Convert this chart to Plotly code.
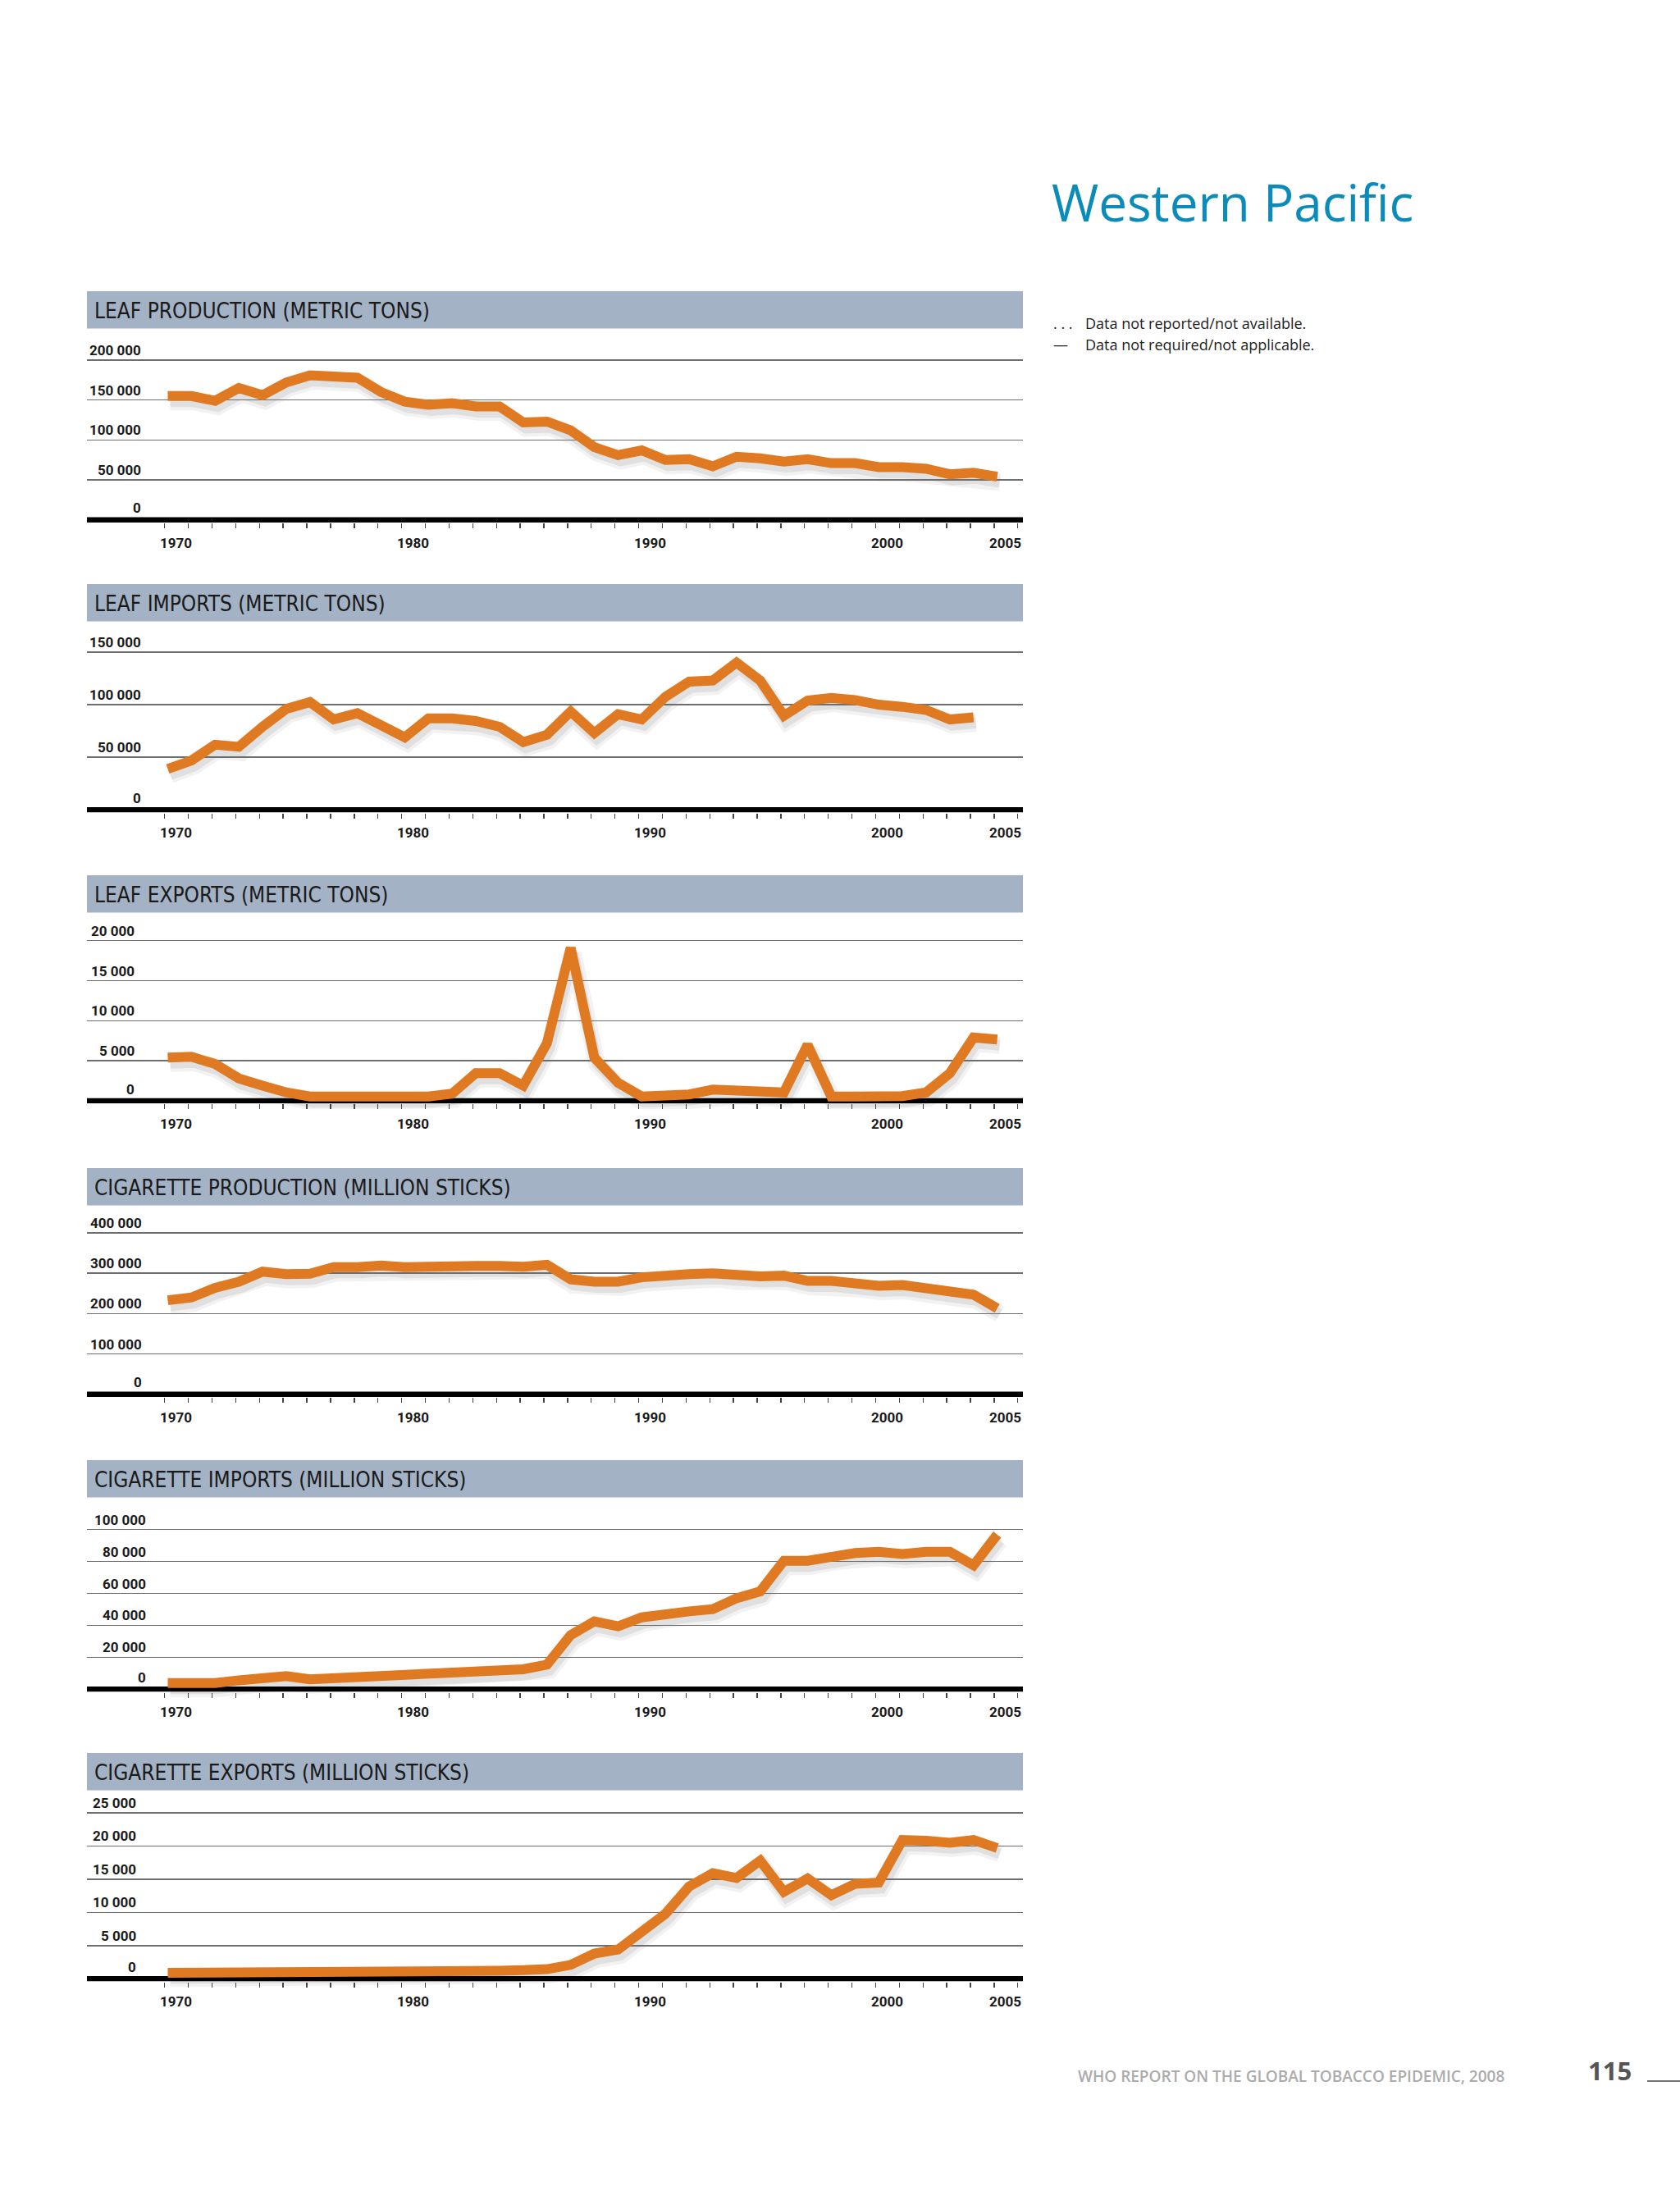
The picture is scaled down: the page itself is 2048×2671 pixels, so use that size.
import plotly.graph_objects as go

# ---------------- data ----------------
years = list(range(1970, 2006))

leaf_production = [155000, 155000, 149000, 165000, 156000, 172000, 181000, 178000, 178000, 160000,
                   148000, 144000, 146000, 142000, 142000, 122000, 123000, 112000, 91000, 81000,
                   87000, 75000, 76000, 67000, 79000, 77000, 73000, 76000, 71000, 71000,
                   66000, 66000, 64000, 57000, 59000, 54000]

leaf_imports = [39000, 47000, 62000, 60000, 79000, 96000, 102500, 86000, 92000, 81000,
                69000, 87000, 87000, 84500, 79000, 64500, 71500, 93500, 73000, 91000,
                86000, 107500, 122000, 123000, 140000, 123000, 89500, 104000, 106500, 104500,
                100000, 98000, 95000, 86000, 88000, None]

leaf_exports = [5400, 5500, 4600, 2800, 1900, 1050, 550, 550, 550, 550,
                550, 550, 900, 3450, 3450, 1900, 7200, 19100, 5400, 2250,
                550, 550, 800, 1400, 1300, 1150, 1050, 7000, 550, 550,
                550, 600, 1050, 3450, 7900, 7650]

cig_production = [233000, 240000, 264000, 279000, 304000, 298000, 299000, 315000, 315000, 319000,
                  315000, 318000, 319000, 318000, 318000, 316000, 321000, 285000, 279000, 279000,
                  290000, 296000, 298000, 300000, 294000, 292000, 294000, 281000, 281000, 276000,
                  269000, 271000, 262000, 250000, 247000, 213000]

cig_imports = [3900, 3400, 3900, 5600, 7400, 8200, 6200, 7000, 7900, 8200,
               8200, 9600, 9600, 10800, 11600, 12500, 15400, 33900, 42500, 39400,
               45000, 47600, 48800, 50200, 57000, 61300, 80500, 80500, 83500, 85300,
               86100, 84700, 86100, 86100, 77600, 96900]

cig_exports = [900, 900, 880, 850, 860, 860, 870, 870, 880, 900,
               1000, 1050, 1100, 1150, 1200, 1300, 1450, 2100, 3800, 4400,
               6900, 9800, 13900, 15900, 15200, 17800, 13100, 15100, 12600, 14300,
               14500, 20900, 20800, 20500, 20900, 19700]

panel_titles = ["LEAF PRODUCTION (METRIC TONS)", "LEAF IMPORTS (METRIC TONS)",
                "LEAF EXPORTS (METRIC TONS)", "CIGARETTE PRODUCTION (MILLION STICKS)",
                "CIGARETTE IMPORTS (MILLION STICKS)", "CIGARETTE EXPORTS (MILLION STICKS)"]

y_tick_values = [
    [0, 50000, 100000, 150000, 200000],
    [0, 50000, 100000, 150000],
    [0, 5000, 10000, 15000, 20000],
    [0, 100000, 200000, 300000, 400000],
    [0, 20000, 40000, 60000, 80000, 100000],
    [0, 5000, 10000, 15000, 20000, 25000],
]
y_tick_labels = [
    ["0", "50 000", "100 000", "150 000", "200 000"],
    ["0", "50 000", "100 000", "150 000"],
    ["0", "5 000", "10 000", "15 000", "20 000"],
    ["0", "100 000", "200 000", "300 000", "400 000"],
    ["0", "20 000", "40 000", "60 000", "80 000", "100 000"],
    ["0", "5 000", "10 000", "15 000", "20 000", "25 000"],
]
x_label_years = [1970, 1980, 1990, 2000, 2005]
x_label_text = ["1970", "1980", "1990", "2000", "2005"]

series = [leaf_production, leaf_imports, leaf_exports, cig_production, cig_imports, cig_exports]

region_title = "Western Pacific"
legend_lines = [(". . .", "Data not reported/not available."),
                ("\u2014", "Data not required/not applicable.")]
footer_text = "WHO REPORT ON THE GLOBAL TOBACCO EPIDEMIC, 2008"
page_number = "115"

# ---------------- layout geometry (pixels) ----------------
W, H = 2048, 2671
X_LEFT, X_RIGHT = 106, 1247
YEAR_PX = 28.89
X0_PX = 204.5          # pixel of the 1970 data point
TICK_SHIFT = -0.13     # tick marks sit slightly left of the data points
LABEL_SHIFT = 0.353    # year labels sit slightly right of the data points
x_range = [1970 - (X0_PX - X_LEFT) / YEAR_PX, 1970 + (X_RIGHT - X0_PX) / YEAR_PX]

header_top = [355, 712, 1067, 1424, 1780, 2137]
HEADER_H = 45.5
zero_px = [633.7, 987.3, 1342.0, 1699.7, 2059.3, 2412.3]
top_px = [439.0, 795.0, 1146.7, 1503.0, 1864.7, 2210.0]
label_right_px = [174, 174, 166, 175, 180, 168]
BAND_HALF = 3.25
TOP_PAD = 14
SH_DX, SH_DY = 3, 7

LINE_COLOR = "#E07A22"
HEADER_COLOR = "#A3B2C5"
GRID_COLOR = "#6e6e6e"
HEAD_FONT = "DejaVu Sans Condensed, Liberation Sans Narrow, sans-serif"
TICK_FONT = "Roboto, Liberation Sans Narrow, sans-serif"
HUMAN = "Open Sans, Noto Sans, sans-serif"


def py(px):
    return 1 - px / H


def pxx(px):
    return px / W


fig = go.Figure()
layout = dict(
    width=W, height=H, margin=dict(l=0, r=0, t=0, b=0),
    paper_bgcolor="white", plot_bgcolor="rgba(0,0,0,0)",
    showlegend=False,
)
shapes, annotations = [], []
tick_positions = [y + TICK_SHIFT for y in range(1970, 2007)]

n = len(series)
for i in range(n):
    ymax = y_tick_values[i][-1]
    vpp = ymax / (zero_px[i] - top_px[i])
    y_range = [-BAND_HALF * vpp, ymax + TOP_PAD * vpp]
    dom_y = [py(zero_px[i] + BAND_HALF), py(top_px[i] - TOP_PAD)]
    dom_y_sh = [py(zero_px[i] + BAND_HALF + SH_DY), py(top_px[i] - TOP_PAD + SH_DY)]

    # shadow subplot: ids 1..6 ; main subplot: ids 7..12
    sid = i + 1
    mid = i + 1 + n
    sx = "x" if sid == 1 else f"x{sid}"
    sy = "y" if sid == 1 else f"y{sid}"
    mx, my = f"x{mid}", f"y{mid}"
    sxk = "xaxis" if sid == 1 else f"xaxis{sid}"
    syk = "yaxis" if sid == 1 else f"yaxis{sid}"

    hidden = dict(visible=False, fixedrange=True)
    layout[sxk] = dict(domain=[pxx(X_LEFT + SH_DX), pxx(X_RIGHT + SH_DX)], range=x_range,
                       anchor=sy, **hidden)
    layout[syk] = dict(domain=dom_y_sh, range=y_range, anchor=sx, **hidden)

    layout[f"xaxis{mid}"] = dict(
        domain=[pxx(X_LEFT), pxx(X_RIGHT)], range=x_range, anchor=my,
        tickmode="array", tickvals=tick_positions, ticks="outside",
        ticklen=6, tickwidth=1.4, tickcolor="#444444", showticklabels=False,
        showgrid=False, showline=False, zeroline=False, fixedrange=True,
    )
    layout[f"yaxis{mid}"] = dict(
        domain=dom_y, range=y_range, anchor=mx,
        tickmode="array", tickvals=y_tick_values[i][1:], showticklabels=False,
        ticks="", showgrid=True, gridcolor=GRID_COLOR, gridwidth=1.6,
        showline=False, zeroline=False, fixedrange=True,
    )

    # drop shadow (same data, drawn in offset subplot)
    fig.add_trace(go.Scatter(x=years, y=series[i], mode="lines", xaxis=sx, yaxis=sy,
                             line=dict(color="rgba(0,0,0,0.05)", width=21),
                             hoverinfo="skip", connectgaps=False))
    fig.add_trace(go.Scatter(x=years, y=series[i], mode="lines", xaxis=sx, yaxis=sy,
                             line=dict(color="rgba(0,0,0,0.07)", width=13),
                             hoverinfo="skip", connectgaps=False))

    # header band
    shapes.append(dict(type="rect", xref="paper", yref="paper",
                       x0=pxx(X_LEFT), x1=pxx(X_RIGHT),
                       y0=py(header_top[i] + HEADER_H), y1=py(header_top[i]),
                       fillcolor=HEADER_COLOR, line=dict(width=0), layer="below"))
    annotations.append(dict(text=panel_titles[i], xref="paper", yref="paper",
                            x=pxx(113), y=py(header_top[i] + HEADER_H / 2 + 1.5),
                            xanchor="left", yanchor="middle", showarrow=False,
                            font=dict(family=HEAD_FONT, size=26, color="#1a1a1a")))

    # thick baseline at zero
    shapes.append(dict(type="line", xref=f"{mx} domain", yref=my, x0=0, x1=1, y0=0, y1=0,
                       line=dict(color="black", width=6.5), layer="below"))

    # y tick labels inside the plot, above the gridlines
    for v, t in zip(y_tick_values[i], y_tick_labels[i]):
        annotations.append(dict(text=f"<b>{t}</b>", xref="paper", yref=my,
                                x=pxx(label_right_px[i]), y=v,
                                xanchor="right", yanchor="bottom", showarrow=False,
                                yshift=(BAND_HALF - 1) if v == 0 else 0,
                                font=dict(family=TICK_FONT, size=17, color="#1a1a1a")))
    # x tick labels
    for yr, t in zip(x_label_years, x_label_text):
        annotations.append(dict(text=f"<b>{t}</b>", xref=mx, yref="paper",
                                x=yr + LABEL_SHIFT, y=py(zero_px[i] + 28),
                                xanchor="center", yanchor="middle", showarrow=False,
                                font=dict(family=TICK_FONT, size=17, color="#1a1a1a")))

# main lines on top
for i in range(n):
    mid = i + 1 + n
    fig.add_trace(go.Scatter(x=years, y=series[i], mode="lines",
                             xaxis=f"x{mid}", yaxis=f"y{mid}",
                             line=dict(color=LINE_COLOR, width=12),
                             hoverinfo="skip", connectgaps=False))

# region title and legend
annotations.append(dict(text=region_title, xref="paper", yref="paper",
                        x=pxx(1280), y=py(267.3 - 0.35 * 62), xanchor="left", yanchor="middle",
                        showarrow=False, font=dict(family=HUMAN, size=62, color="#0A8BBA")))
for k, (sym, txt) in enumerate(legend_lines):
    base = [400.0, 426.7][k]
    annotations.append(dict(text=sym, xref="paper", yref="paper",
                            x=pxx(1282), y=py(base - 0.35 * 18), xanchor="left", yanchor="middle",
                            showarrow=False, font=dict(family=HUMAN, size=18, color="#222222")))
    annotations.append(dict(text=txt, xref="paper", yref="paper",
                            x=pxx(1321), y=py(base - 0.35 * 18), xanchor="left", yanchor="middle",
                            showarrow=False, font=dict(family=HUMAN, size=18, color="#222222")))

# footer
annotations.append(dict(text=footer_text, xref="paper", yref="paper",
                        x=pxx(1312), y=py(2537.3 - 0.35 * 19), xanchor="left", yanchor="middle",
                        showarrow=False,
                        font=dict(family=HUMAN, size=19, color="#ababab", weight=600)))
annotations.append(dict(text=page_number, xref="paper", yref="paper",
                        x=pxx(1934), y=py(2535 - 0.35 * 31), xanchor="left", yanchor="middle",
                        showarrow=False,
                        font=dict(family=HUMAN, size=31, color="#555555", weight=700)))
shapes.append(dict(type="line", xref="paper", yref="paper",
                   x0=pxx(2008), x1=1.0, y0=py(2537), y1=py(2537),
                   line=dict(color="#444444", width=1.5)))

layout["shapes"] = shapes
layout["annotations"] = annotations
fig.update_layout(**layout)

fig.write_html("out.html",
               config={"displayModeBar": False, "staticPlot": True},
               post_script="document.body.style.margin='0px';document.body.style.padding='0px';")
